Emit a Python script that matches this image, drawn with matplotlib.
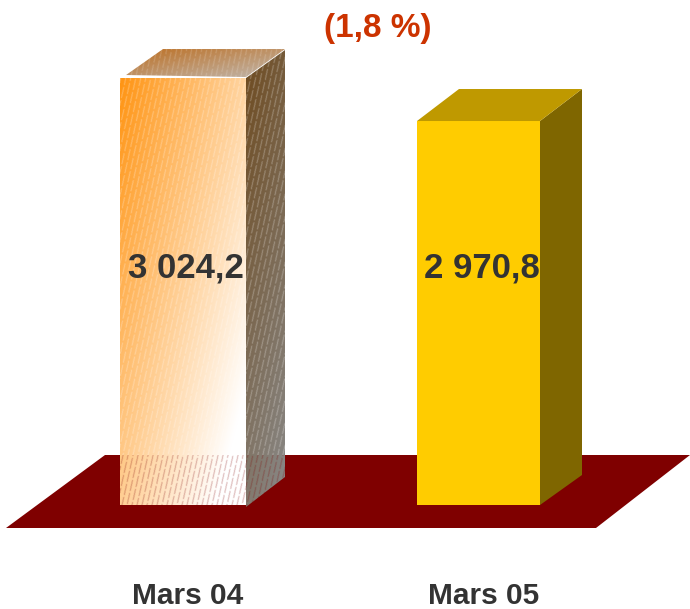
import numpy as np
import matplotlib
matplotlib.use('Agg')
import matplotlib.pyplot as plt
from matplotlib.patches import Polygon

plt.rcParams['font.family'] = ['Liberation Sans', 'DejaVu Sans']

categories = ['Mars 04', 'Mars 05']
values = [3024.2, 2970.8]
value_labels = ['3 024,2', '2 970,8']
change_label = '(1,8 %)'

# the value axis does not start at zero, about 0.805 px per unit
base = 2493.8
px_per_unit = 0.805
baseline_px = 505
W, H = 690, 609


def py(pixels):
    # height in pixels -> value units
    return pixels / px_per_unit


fig = plt.figure(figsize=(6.9, 6.09), dpi=100)
ax = fig.add_axes([0, 0, 1, 1])
ax.set_xlim(0, W)
ax.set_ylim(base - py(H - baseline_px), base + py(baseline_px))
ax.axis('off')

# floor
floor_back = base + py(50)
floor_front = base - py(23)
ax.add_patch(Polygon([(6, floor_front), (105, floor_back), (690, floor_back), (596, floor_front)],
                     closed=True, fc='#7f0000', ec='none', zorder=1))


def textured(poly, c0, c1, x_w=0.6, y_w=0.55, stripe_alpha=0.7, zorder=3):
    # gradient c0->c1 with dashed slanted lighter stripes, clipped to poly
    xs = [p[0] for p in poly]
    ys = [p[1] for p in poly]
    x0, x1, y0, y1 = min(xs), max(xs), min(ys), max(ys)
    nx = int(x1 - x0) * 2
    ny = int((y1 - y0) * px_per_unit) * 2
    gx, gy = np.meshgrid(np.arange(nx) / 2.0, np.arange(ny) / 2.0)
    t = np.clip(x_w * gx / max(nx / 2.0, 1) + y_w * gy / max(ny / 2.0, 1), 0, 1)
    t = t[..., None]
    img = np.zeros((ny, nx, 4))
    img[..., :3] = (1 - t) * np.array(matplotlib.colors.to_rgb(c0)) + t * np.array(matplotlib.colors.to_rgb(c1))
    u = gx + 0.22 * gy
    stripes = (u % 5 < 1.0) & ((gy + 4 * np.floor(u / 5)) % 13 < 11)
    img[..., 3] = np.where(stripes, stripe_alpha, 1.0)
    im = ax.imshow(img, extent=(x0, x1, y0, y1), origin='upper', aspect='auto',
                   interpolation='bilinear', zorder=zorder)
    patch = Polygon(poly, closed=True, transform=ax.transData, fc='none', ec='none')
    ax.add_patch(patch)
    im.set_clip_path(patch)


# Mars 04 bar, textured and partly transparent
l, r = 120, 246
dx, dy = 39, 28
top = values[0]
textured([(l, base), (r, base), (r, top), (l, top)], '#ff9412', '#ffffff')
textured([(r, base - py(2)), (r + dx, base + py(dy)), (r + dx, top + py(dy)), (r, top)],
         '#6e4a1e', '#8a8a8a', x_w=0.25, y_w=0.75)
textured([(l + 6, top + py(3)), (l + dx + 4, top + py(dy + 1)), (r + dx, top + py(dy + 1)), (r, top + py(1))],
         '#bd6f22', '#c0b8b0', x_w=0.5, y_w=0.5, stripe_alpha=0.8)

# Mars 05 bar, flat colours
l2, r2 = 417, 540
dx2, dy2 = 42, 32
top2 = values[1]
ax.add_patch(Polygon([(l2, base), (r2, base), (r2, top2), (l2, top2)], closed=True, fc='#ffcc00', ec='none', zorder=3))
ax.add_patch(Polygon([(r2, base), (r2 + dx2, base + py(dy2 - 2)), (r2 + dx2, top2 + py(dy2)), (r2, top2)],
                     closed=True, fc='#7f6600', ec='none', zorder=3))
ax.add_patch(Polygon([(l2, top2), (l2 + dx2, top2 + py(dy2)), (r2 + dx2, top2 + py(dy2)), (r2, top2)],
                     closed=True, fc='#bf9900', ec='none', zorder=3))

# texts
label_y = base + py(baseline_px - 268)
for x, lab in zip([186, 482], value_labels):
    ax.text(x, label_y, lab, ha='center', va='center', fontsize=25, fontweight='bold', color='#333333', zorder=5)
cat_y = base - py(596 - baseline_px)
for x, lab in zip([188, 484], categories):
    ax.text(x, cat_y, lab, ha='center', va='center', fontsize=21.5, fontweight='bold', color='#333333', zorder=5)
ax.text(378, base + py(baseline_px - 29), change_label, ha='center', va='center', fontsize=24,
        fontweight='bold', color='#cc3300', zorder=5)

plt.savefig('out.png', dpi=100)
